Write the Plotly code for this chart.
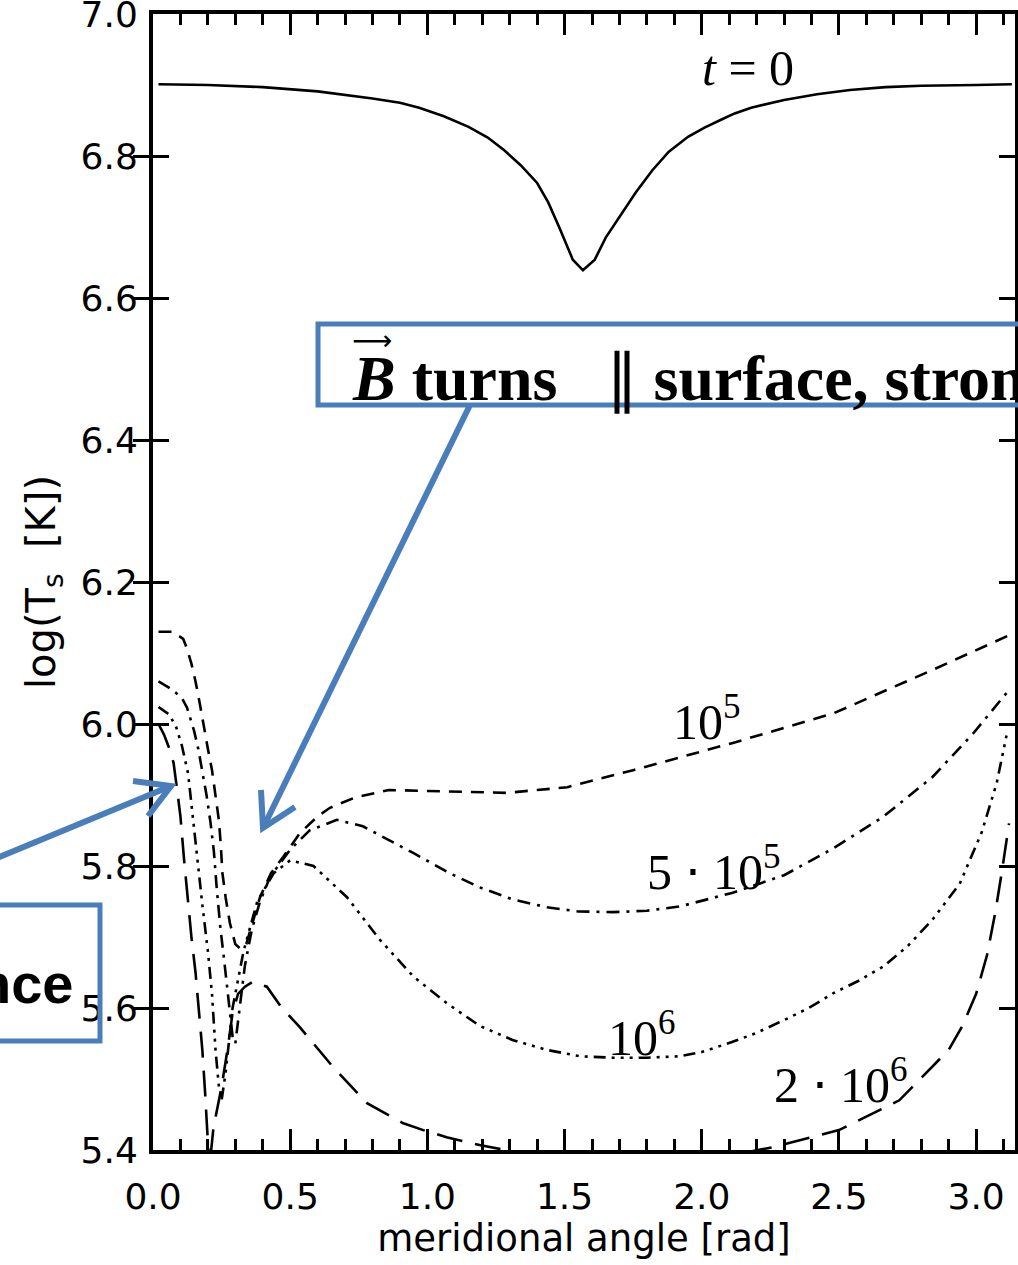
import plotly.graph_objects as go

# ---- surface temperature profiles log(T_s) vs meridional angle ----
x_t0 = [0.02, 0.2, 0.4, 0.6, 0.8, 0.9, 0.97, 1.06, 1.15, 1.22, 1.28, 1.34,
        1.40, 1.44, 1.48, 1.53, 1.567, 1.61, 1.65, 1.70, 1.76, 1.82, 1.88,
        1.95, 2.01, 2.07, 2.12, 2.18, 2.24, 2.30, 2.42, 2.54, 2.67, 2.80, 3.00,
        3.13]
y_t0 = [6.901, 6.900, 6.897, 6.891, 6.881, 6.875, 6.868, 6.856, 6.841, 6.826,
        6.808, 6.787, 6.762, 6.735, 6.700, 6.654, 6.639, 6.654, 6.685, 6.714,
        6.749, 6.780, 6.806, 6.827, 6.840, 6.851, 6.860, 6.868, 6.874, 6.879,
        6.887, 6.893, 6.897, 6.899, 6.900, 6.901]

x_1e5 = [0.02, 0.07, 0.11, 0.125, 0.14, 0.155, 0.17, 0.185, 0.20, 0.215, 0.228,
         0.24, 0.247, 0.253, 0.265, 0.28, 0.30, 0.32, 0.34, 0.36, 0.39, 0.43,
         0.475, 0.535, 0.60, 0.645, 0.74, 0.86, 1.08, 1.29, 1.51, 1.75, 2.11,
         2.48, 2.84, 3.12]
y_1e5 = [6.130, 6.130, 6.120, 6.105, 6.085, 6.060, 6.030, 5.995, 5.965, 5.935,
         5.900, 5.865, 5.830, 5.790, 5.755, 5.720, 5.690, 5.683, 5.690, 5.715,
         5.756, 5.790, 5.813, 5.846, 5.870, 5.882, 5.897, 5.907, 5.905, 5.903,
         5.911, 5.935, 5.973, 6.015, 6.076, 6.125]

x_5e5 = [0.02, 0.055, 0.08, 0.105, 0.124, 0.135, 0.15, 0.165, 0.18, 0.195, 0.21,
         0.222, 0.232, 0.245, 0.26, 0.275, 0.29, 0.30, 0.315, 0.335, 0.36, 0.39,
         0.427, 0.50, 0.57, 0.67, 0.765, 0.84, 0.95, 1.08, 1.19, 1.31, 1.435,
         1.55, 1.676, 1.80, 1.92, 2.11, 2.30, 2.48, 2.66, 2.84, 2.99, 3.12]
y_5e5 = [6.060, 6.052, 6.045, 6.037, 6.023, 6.010, 5.990, 5.965, 5.935, 5.900,
         5.860, 5.820, 5.770, 5.715, 5.665, 5.615, 5.560, 5.550, 5.600, 5.660,
         5.710, 5.750, 5.785, 5.823, 5.850, 5.865, 5.856, 5.841, 5.818, 5.790,
         5.770, 5.753, 5.742, 5.736, 5.735, 5.737, 5.743, 5.762, 5.787, 5.825,
         5.869, 5.925, 5.987, 6.048]

x_1e6 = [0.02, 0.06, 0.085, 0.105, 0.128, 0.142, 0.153, 0.165, 0.18, 0.20,
         0.215, 0.228, 0.24, 0.25, 0.265, 0.29, 0.33, 0.38, 0.44, 0.50, 0.585,
         0.707, 0.827, 0.95, 1.07, 1.19, 1.31, 1.435, 1.556, 1.676, 1.80, 1.92,
         2.00, 2.11, 2.20, 2.30, 2.39, 2.48, 2.57, 2.66, 2.75, 2.84, 2.94, 3.02,
         3.075, 3.115]
y_1e6 = [6.024, 6.013, 5.995, 5.970, 5.930, 5.880, 5.840, 5.790, 5.745, 5.680,
         5.620, 5.540, 5.490, 5.470, 5.510, 5.600, 5.680, 5.750, 5.790, 5.808,
         5.800, 5.756, 5.696, 5.644, 5.607, 5.575, 5.555, 5.541, 5.532, 5.530,
         5.530, 5.532, 5.538, 5.552, 5.565, 5.583, 5.600, 5.621, 5.638, 5.658,
         5.687, 5.724, 5.775, 5.847, 5.917, 5.992]

x_2e6 = [0.02, 0.04, 0.06, 0.075, 0.087, 0.10, 0.113, 0.125, 0.14, 0.155, 0.17,
         0.18, 0.19, 0.20, 0.206, 0.212, 0.22, 0.233, 0.25, 0.273, 0.29, 0.31,
         0.335, 0.364, 0.415, 0.47, 0.535, 0.656, 0.78, 0.91, 0.985, 1.07, 1.19,
         1.35, 1.60, 1.90, 2.10, 2.26, 2.50, 2.72, 2.90, 2.95, 3.00, 3.04, 3.07,
         3.095, 3.12]
y_2e6 = [6.000, 5.985, 5.965, 5.945, 5.910, 5.870, 5.810, 5.760, 5.700, 5.650,
         5.590, 5.540, 5.480, 5.410, 5.370, 5.400, 5.430, 5.456, 5.489, 5.545,
         5.593, 5.620, 5.630, 5.637, 5.630, 5.600, 5.573, 5.517, 5.466, 5.438,
         5.428, 5.418, 5.407, 5.395, 5.385, 5.385, 5.392, 5.404, 5.428, 5.470,
         5.541, 5.575, 5.620, 5.675, 5.735, 5.795, 5.860]

x_ticks = [0.0, 0.5, 1.0, 1.5, 2.0, 2.5, 3.0]
y_ticks = [5.4, 5.6, 5.8, 6.0, 6.2, 6.4, 6.6, 6.8, 7.0]
x_range = [0, 3.1416]
y_range = [5.4, 7.0]

# curve labels: (text, x, y)
curve_labels = [
    ("<i>t</i> = 0", 2.168, 6.924),
    ("10<sup>5</sup>", 2.019, 6.008),
    ("5 ⋅ 10<sup>5</sup>", 2.044, 5.797),
    ("10<sup>6</sup>", 1.782, 5.562),
    ("2 ⋅ 10<sup>6</sup>", 2.507, 5.497),
]

series = [
    (x_t0, y_t0, "solid"),
    (x_1e5, y_1e5, "13px,9px"),
    (x_5e5, y_5e5, "13px,7px,3px,7px"),
    (x_1e6, y_1e6, "12px,6px,3px,6px,3px,6px,3px,6px"),
    (x_2e6, y_2e6, "26px,13px"),
]

W, H = 1018, 1265
L, R, T, B = 153, 3, 14, 115
PW, PH = W - L - R, H - T - B

def pxx(p):
    return (p - L) / PW

def pxy(p):
    return (H - B - p) / PH

BLUE = "#4a7ebb"

fig = go.Figure()
for xs, ys, dash in series:
    fig.add_trace(go.Scatter(x=xs, y=ys, mode="lines",
                             line=dict(color="black", width=2.6, dash=dash),
                             showlegend=False, hoverinfo="skip"))
# carrier trace for the top axis (ticks only)
fig.add_trace(go.Scatter(x=x_range, y=y_range, xaxis="x2", mode="lines",
                         line=dict(width=0), showlegend=False, hoverinfo="skip"))

axis_font = dict(family="DejaVu Sans", size=36, color="black")
minor_x = dict(dtick=0.1, ticks="inside", ticklen=11, tickwidth=3,
               tickcolor="black")

fig.update_layout(
    width=W, height=H,
    margin=dict(l=L, r=R, t=T, b=B, pad=0, autoexpand=False),
    paper_bgcolor="white", plot_bgcolor="white",
    xaxis=dict(range=x_range, tickvals=x_ticks, tickformat=".1f",
               ticks="inside", ticklen=21, tickwidth=3, tickcolor="black",
               minor=minor_x, automargin=False,
               showline=True, linewidth=4, linecolor="black", mirror=True,
               showgrid=False, zeroline=False, tickfont=axis_font,
               ticklabelstandoff=12, ticklabeloverflow="allow",
               title=dict(text="meridional angle [rad]",
                          font=dict(family="DejaVu Sans", size=37, color="black"),
                          standoff=10)),
    xaxis2=dict(range=x_range, overlaying="x", side="top", tickvals=x_ticks,
                ticks="inside", ticklen=21, tickwidth=3, tickcolor="black",
                minor=minor_x, automargin=False,
                showticklabels=False, showline=False, showgrid=False,
                zeroline=False),
    yaxis=dict(range=y_range, tickvals=y_ticks, tickformat=".1f",
               ticks="inside", ticklen=16, tickwidth=3, tickcolor="black",
               automargin=False,
               showline=True, linewidth=4, linecolor="black", mirror="allticks",
               showgrid=False, zeroline=False, tickfont=axis_font,
               ticklabelstandoff=4, ticklabeloverflow="allow",
               title=dict(text="log(T<sub>s</sub>  [K])",
                          font=dict(family="DejaVu Sans", size=40, color="black"),
                          standoff=14)),
)

for text, x, y in curve_labels:
    fig.add_annotation(x=x, y=y, text=text, showarrow=False,
                       font=dict(family="Liberation Serif", size=50, color="black"),
                       xanchor="center", yanchor="middle")

# callout boxes
fig.add_shape(type="rect", xref="paper", yref="paper",
              x0=pxx(318), x1=pxx(1040), y0=pxy(405), y1=pxy(324),
              line=dict(color=BLUE, width=5))
fig.add_shape(type="rect", xref="paper", yref="paper",
              x0=pxx(-20), x1=pxx(100), y0=pxy(1041), y1=pxy(905),
              line=dict(color=BLUE, width=5))

fig.add_annotation(xref="paper", yref="paper", x=pxx(350), y=pxy(378),
                   text="<b><i>B</i> turns</b>   ∥ <b>surface, strong</b>",
                   showarrow=False, xanchor="left", yanchor="middle",
                   font=dict(family="Liberation Serif", size=64, color="black"))
fig.add_annotation(xref="paper", yref="paper", x=pxx(372), y=pxy(340),
                   text="⟶", showarrow=False, xanchor="center", yanchor="middle",
                   font=dict(family="DejaVu Sans", size=28, color="black"))
fig.add_annotation(xref="paper", yref="paper", x=pxx(76), y=pxy(983),
                   text="<b>nce</b>", showarrow=False,
                   xanchor="right", yanchor="middle",
                   font=dict(family="Liberation Sans", size=56, color="black"))

# callout arrows with open heads
def arrow(tail, tip, arm1, arm2):
    fig.add_shape(type="line", xref="paper", yref="paper",
                  x0=pxx(tail[0]), y0=pxy(tail[1]),
                  x1=pxx(tip[0]), y1=pxy(tip[1]),
                  line=dict(color=BLUE, width=6))
    fig.add_shape(type="path", xref="paper", yref="paper",
                  path=(f"M {pxx(arm1[0])},{pxy(arm1[1])} "
                        f"L {pxx(tip[0])},{pxy(tip[1])} "
                        f"L {pxx(arm2[0])},{pxy(arm2[1])}"),
                  line=dict(color=BLUE, width=6))

arrow((470, 405), (263, 828), (261, 790), (295, 807))
arrow((-10, 861), (171, 786), (133, 781), (148, 816))

fig.write_html("out.html")
